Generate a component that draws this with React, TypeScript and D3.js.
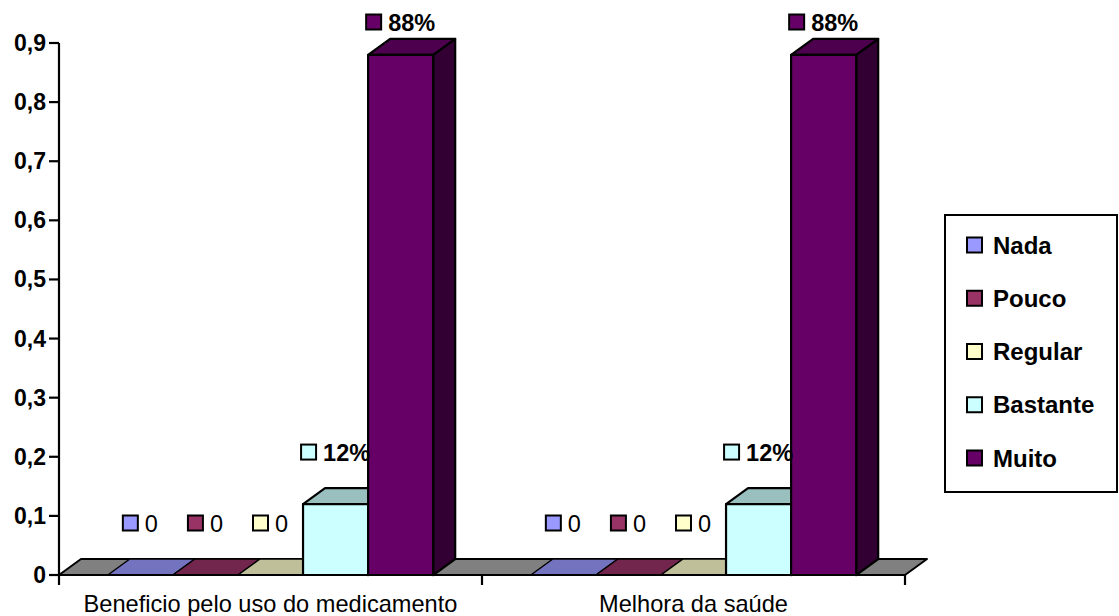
import React from "react";
import * as d3 from "d3";

const categories = ["Beneficio pelo uso do medicamento", "Melhora da saúde"];
const seriesNames = ["Nada", "Pouco", "Regular", "Bastante", "Muito"];
const seriesColors = ["#9999FF", "#993366", "#FFFFCC", "#CCFFFF", "#660066"];
const valuesBeneficio = [0, 0, 0, 0.12, 0.88];
const valuesMelhora = [0, 0, 0, 0.12, 0.88];
const yTicks = [0, 0.1, 0.2, 0.3, 0.4, 0.5, 0.6, 0.7, 0.8, 0.9];
const yTickLabels = ["0", "0,1", "0,2", "0,3", "0,4", "0,5", "0,6", "0,7", "0,8", "0,9"];

const W = 1119;
const H = 616;
const FONT = "'Liberation Sans', Arial, Helvetica, sans-serif";
const DX = 22;
const DY = -16;

function shade(c: string, k: number) {
  const col = d3.rgb(c);
  return d3.rgb(col.r * k, col.g * k, col.b * k).formatHex();
}

export default function App() {
  const x = d3.scaleBand<string>().domain(categories).range([59, 905]).paddingInner(0).paddingOuter(0);
  const y = d3.scaleLinear().domain([0, 0.9]).range([575, 43]);
  const data = [valuesBeneficio, valuesMelhora];
  const bw = x.bandwidth() / (seriesNames.length + 1.5);
  const y0 = y(0);

  const poly = (pts: [number, number][]) => "M" + pts.map((p) => p.join(",")).join("L") + "Z";

  const floor = poly([
    [59, y0],
    [905, y0],
    [905 + DX, y0 + DY],
    [59 + DX, y0 + DY],
  ]);

  const bars: JSX.Element[] = [];
  const labels: JSX.Element[] = [];
  categories.forEach((cat, ci) => {
    const vals = data[ci];
    vals.forEach((v, si) => {
      const x0 = (x(cat) as number) + 0.75 * bw + si * bw;
      const x1 = x0 + bw;
      const yt = y(v);
      const color = seriesColors[si];
      const key = `${ci}-${si}`;
      const top = poly([
        [x0, yt],
        [x1, yt],
        [x1 + DX, yt + DY],
        [x0 + DX, yt + DY],
      ]);
      if (v === 0) {
        bars.push(
          <path key={key} d={top} fill={shade(color, 0.75)} stroke="#000" strokeWidth={1.5} strokeLinejoin="round" />
        );
      } else {
        bars.push(
          <g key={key} stroke="#000" strokeWidth={2.2} strokeLinejoin="round">
            <path
              d={poly([
                [x1, yt],
                [x1 + DX, yt + DY],
                [x1 + DX, y0 + DY],
                [x1, y0],
              ])}
              fill={shade(color, 0.5)}
            />
            <path d={top} fill={shade(color, 0.75)} />
            <rect x={x0} y={yt} width={bw} height={y0 - yt} fill={color} />
          </g>
        );
      }
      const txt = v === 0 ? "0" : `${Math.round(v * 100)}%`;
      const bold = v !== 0;
      const textW = v === 0 ? 13 : 47;
      const gw = 15 + 7 + textW;
      const cx = (x0 + x1) / 2;
      const cy = Math.max(yt - 52, 22);
      const lx = cx - gw / 2;
      labels.push(
        <g key={"l" + key}>
          <rect x={lx} y={cy - 7.5} width={15} height={15} fill={color} stroke="#000" strokeWidth={2} />
          <text
            x={lx + 22}
            y={cy + 8.5}
            fontFamily={FONT}
            fontSize={23.5}
            fontWeight={bold ? "bold" : "normal"}
            fill="#000"
          >
            {txt}
          </text>
        </g>
      );
    });
  });

  return (
    <svg width={W} height={H} style={{ position: "absolute", left: 0, top: 0, background: "#fff" }}>
      <rect x={0} y={0} width={W} height={H} fill="#fff" />
      <path d={floor} fill="#808080" stroke="#000" strokeWidth={2} strokeLinejoin="round" />
      {bars}
      <line x1={59} x2={59} y1={y(0.9)} y2={y0} stroke="#000" strokeWidth={2.2} />
      {yTicks.map((t, i) => (
        <g key={"yt" + i}>
          <line x1={49} x2={59} y1={y(t)} y2={y(t)} stroke="#000" strokeWidth={2.2} />
          <text
            x={46}
            y={y(t) + 8}
            textAnchor="end"
            fontFamily={FONT}
            fontSize={23}
            fontWeight="bold"
            fill="#000"
          >
            {yTickLabels[i]}
          </text>
        </g>
      ))}
      <line x1={59} x2={905} y1={y0} y2={y0} stroke="#000" strokeWidth={2.2} />
      {[...categories.map((c) => x(c) as number), 905].map((tx, i) => (
        <line key={"xt" + i} x1={tx} x2={tx} y1={y0} y2={y0 + 10} stroke="#000" strokeWidth={2.2} />
      ))}
      {categories.map((c) => (
        <text
          key={"xl" + c}
          x={(x(c) as number) + x.bandwidth() / 2}
          y={612}
          textAnchor="middle"
          fontFamily={FONT}
          fontSize={23.6}
          fill="#000"
        >
          {c}
        </text>
      ))}
      {labels}
      <rect x={945} y={215} width={172} height={277} fill="#fff" stroke="#000" strokeWidth={2} />
      {seriesNames.map((s, i) => {
        const cy = 245 + i * 53.25;
        return (
          <g key={"lg" + s}>
            <rect x={967} y={cy - 7.5} width={15} height={15} fill={seriesColors[i]} stroke="#000" strokeWidth={2} />
            <text x={993} y={cy + 8.5} fontFamily={FONT} fontSize={24} fontWeight="bold" fill="#000">
              {s}
            </text>
          </g>
        );
      })}
    </svg>
  );
}
